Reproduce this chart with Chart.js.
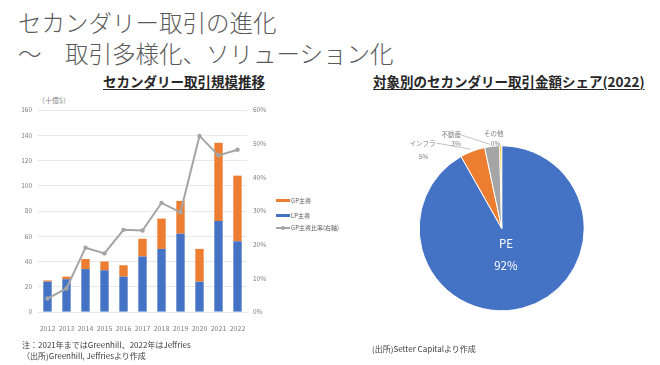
<!DOCTYPE html>
<html><head><meta charset="utf-8">
<script src="https://cdn.jsdelivr.net/npm/chart.js@4"></script>
<style>
body{margin:0;width:660px;height:365px;background:#fff;position:relative;overflow:hidden;font-family:"Noto Sans CJK JP","Noto Sans",sans-serif;}
.t{position:absolute;white-space:nowrap;}
.title{font-size:23.5px;color:#5a5a5a;left:18px;line-height:1;font-weight:300;}
.sub{font-size:13.5px;font-weight:bold;color:#262626;text-decoration:underline;text-underline-offset:2px;line-height:1;}
.note{font-size:8px;color:#404040;line-height:1;}
.lg{font-size:6px;color:#595959;line-height:1;}
.sw{position:absolute;height:3px;width:14px;}
canvas{position:absolute;}
</style></head><body>
<div class="t title" style="top:11px">セカンダリー取引の進化</div>
<div class="t title" style="top:42px">～　取引多様化、ソリューション化</div>
<div class="t sub" id="sub1" style="top:75px;left:103px">セカンダリー取引規模推移</div>
<div class="t sub" id="sub2" style="top:75px;left:373px">対象別のセカンダリー取引金額シェア(2022)</div>
<div class="t" style="left:38px;top:97px;font-size:7px;color:#7f7f7f;line-height:1">（十億$）</div>
<canvas id="c1" width="280" height="365" style="left:0;top:0"></canvas>
<canvas id="c2" width="320" height="250" style="left:340px;top:95px"></canvas>
<div class="sw" style="left:276px;top:199px;background:#ED7D31"></div>
<div class="t lg" style="left:291px;top:198px">GP主導</div>
<div class="sw" style="left:276px;top:214px;background:#4472C4"></div>
<div class="t lg" style="left:291px;top:213px">LP主導</div>
<div class="sw" style="left:276px;top:227px;height:1.5px;background:#A5A5A5"></div>
<div style="position:absolute;left:281px;top:225.5px;width:4px;height:4px;border-radius:2px;background:#A5A5A5"></div>
<div class="t lg" style="left:291px;top:225px">GP主導比率(右軸)</div>
<div class="t note" style="left:22px;top:341px">注：2021年まではGreenhill、2022年はJeffries</div>
<div class="t note" style="left:22px;top:352px">（出所)Greenhill, Jeffriesより作成</div>
<div class="t note" style="left:372px;top:345px">(出所)Setter Capitalより作成</div>
<script>
const years = ['2012','2013','2014','2015','2016','2017','2018','2019','2020','2021','2022'];
const lpValues = [24,26,34,33,28,44,50,62,24,72,56];
const gpValues = [1,2,8,7,9,14,24,26,26,62,52];
const gpRatio = [4.0,7.0,19.1,17.4,24.4,24.2,32.4,29.6,52.3,46.5,48.2];
const leftTicks = [0,20,40,60,80,100,120,140,160];
const rightTicks = [0,10,20,30,40,50,60];

const pieLabels = ['PE','インフラ','不動産','その他'];
const pieValues = [91.8,4.9,2.9,0.4];
const pieColors = ['#4472C4','#ED7D31','#A5A5A5','#FFC000'];

Chart.defaults.font.family = '"Noto Sans CJK JP","Noto Sans",sans-serif';
const tickColor = '#7f7f7f';

new Chart(document.getElementById('c1'), {
  type:'bar',
  data:{labels:years,datasets:[
    {label:'LP主導',data:lpValues,backgroundColor:'#4472C4',stack:'s',yAxisID:'y',order:2},
    {label:'GP主導',data:gpValues,backgroundColor:'#ED7D31',stack:'s',yAxisID:'y',order:2},
    {type:'line',label:'GP主導比率(右軸)',data:gpRatio,yAxisID:'y1',borderColor:'#A5A5A5',backgroundColor:'#A5A5A5',borderWidth:2,pointRadius:2.2,pointBackgroundColor:'#A5A5A5',pointBorderWidth:0,order:0,tension:0}
  ]},
  options:{
    responsive:false,animation:false,devicePixelRatio:1,
    layout:{padding:{top:110,bottom:33,left:0,right:0}},
    plugins:{legend:{display:false},tooltip:{enabled:false}},
    datasets:{bar:{barPercentage:0.44,categoryPercentage:1}},
    scales:{
      x:{stacked:true,grid:{display:false},border:{display:false},
         ticks:{color:tickColor,font:{size:7},padding:4,maxRotation:0,autoSkip:false},
         afterFit:s=>{s.height=20;}},
      y:{stacked:true,min:0,max:160,position:'left',
         afterBuildTicks:s=>{s.ticks=leftTicks.map(v=>({value:v}));},
         grid:{color:'#e3e3e3',drawTicks:false,lineWidth:0.8},border:{display:false},
         ticks:{color:tickColor,font:{size:6.5},padding:6},
         afterFit:s=>{s.width=38;}},
      y1:{min:0,max:60,position:'right',
         afterBuildTicks:s=>{s.ticks=rightTicks.map(v=>({value:v}));},
         grid:{display:false,drawTicks:false},border:{display:false},
         ticks:{color:tickColor,font:{size:6.5},padding:6,callback:v=>v+'%'},
         afterFit:s=>{s.width=33;}}
    }
  }
});

const outLabelCfg = {
  1:{name:[-50,-8],pct:[-49,5],line:[-36,-8]},
  2:{name:[-41,-12],pct:[-36,-3],line:[-33,-12]},
  3:{name:[-7,-12],pct:[-5,-2],line:null}
};
const pieLabelPlugin = {
  id:'pieLabels',
  afterDatasetsDraw(chart){
    const ctx = chart.ctx;
    const meta = chart.getDatasetMeta(0);
    const total = pieValues.reduce((a,b)=>a+b,0);
    meta.data.forEach((arc,i)=>{
      const {x,y,startAngle,endAngle,outerRadius} = arc.getProps(['x','y','startAngle','endAngle','outerRadius'],true);
      const mid = (startAngle+endAngle)/2;
      const pct = Math.round(pieValues[i]/total*100)+'%';
      ctx.save();
      ctx.textAlign='center';ctx.textBaseline='middle';
      if(i===0){
        const px = x+Math.cos(mid)*outerRadius*0.2;
        const py = y+Math.sin(mid)*outerRadius*0.33;
        ctx.fillStyle='#ffffff';
        ctx.font='11.5px "Noto Sans CJK JP","Noto Sans",sans-serif';
        ctx.fillText(pieLabels[i],px,py-11);
        ctx.fillText(pct,px,py+11);
      } else {
        const c = outLabelCfg[i];
        const ex = x+Math.cos(mid)*outerRadius, ey = y+Math.sin(mid)*outerRadius;
        ctx.fillStyle='#7f7f7f';
        ctx.font='6.5px "Noto Sans CJK JP","Noto Sans",sans-serif';
        ctx.fillText(pieLabels[i],ex+c.name[0],ey+c.name[1]);
        ctx.fillText(pct,ex+c.pct[0],ey+c.pct[1]);
        if(c.line){
          ctx.strokeStyle='#a6a6a6';ctx.lineWidth=0.7;
          ctx.beginPath();ctx.moveTo(ex+c.line[0],ey+c.line[1]);ctx.lineTo(ex-2,ey-2);ctx.stroke();
        }
      }
      ctx.restore();
    });
  }
};

new Chart(document.getElementById('c2'), {
  type:'pie',
  data:{labels:pieLabels,datasets:[{data:pieValues,backgroundColor:pieColors,borderColor:'#ffffff',borderWidth:1}]},
  options:{
    responsive:false,animation:false,devicePixelRatio:1,
    layout:{padding:{left:78.7,top:50.3,right:75.3,bottom:33.7}},
    plugins:{legend:{display:false},tooltip:{enabled:false}}
  },
  plugins:[pieLabelPlugin]
});
</script>
</body></html>
